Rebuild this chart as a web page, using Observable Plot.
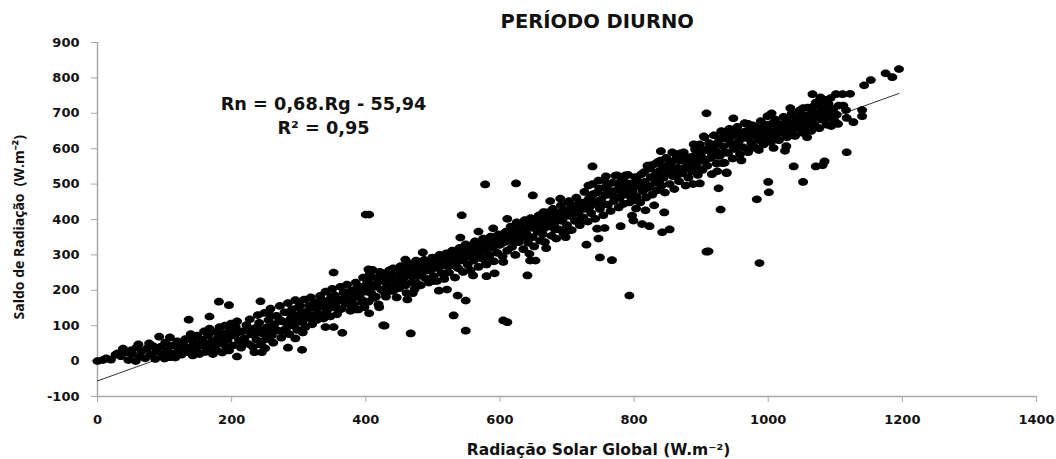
<!DOCTYPE html>
<html><head><meta charset="utf-8">
<script src="https://cdn.jsdelivr.net/npm/d3@7"></script>
<script src="https://cdn.jsdelivr.net/npm/@observablehq/plot@0.6"></script>
<style>body{margin:0;background:#fff}</style></head><body><div id="c"></div>
<script>
const title = "PERÍODO DIURNO";
const xLabel = "Radiação Solar Global (W.m⁻²)";
const yLabel = "Saldo de Radiação  (W.m⁻²)";
const equation = "Rn = 0,68.Rg - 55,94";
const r2 = "R² = 0,95";
const xTicks = [0,200,400,600,800,1000,1200,1400];
const yTicks = [-100,0,100,200,300,400,500,600,700,800,900];
const trendRg = [0,1195];
const trendRn = [-55.94,756];

const outliers = [[400,414],[405,414],[543,412],[578,499],[624,502],[649,468],[738,550],[793,185],[908,309],[911,310],[929,428],[926,488],[840,593],[549,86],[531,129],[605,115],[611,110],[467,78],[426,101],[549,171],[537,185],[521,202],[509,199],[641,242],[560,242],[580,240],[592,248],[605,280],[645,284],[653,284],[644,303],[669,319],[729,329],[749,293],[767,285],[747,346],[698,350],[780,381],[756,376],[745,374],[842,364],[853,372],[823,381],[812,387],[799,397],[797,411],[845,420],[817,426],[803,431],[830,440],[898,502],[924,536],[938,533],[908,700],[948,686],[970,670],[1005,700],[987,277],[983,457],[1001,477],[1000,506],[1052,506],[1038,550],[1071,550],[1084,564],[1081,553],[1117,590],[1195,825],[1175,813],[1185,802],[1153,794],[1143,779],[1122,755],[1111,754],[1101,754],[1066,754],[1078,745],[1093,743],[1033,715],[1052,715],[1112,722],[1105,722],[1116,709],[1140,709],[1140,692],[1117,687],[1127,675],[1058,632],[1027,607],[1025,594],[1008,602],[986,596],[976,603],[960,567],[932,559],[938,531],[136,117],[167,126],[181,168],[196,158],[243,169],[352,250],[428,100],[405,135],[365,80],[352,96],[340,96],[305,32],[284,38],[295,64],[306,81],[208,13],[234,25],[245,25],[250,36],[92,69],[77,50],[108,67],[61,47],[46,3],[57,0],[100,7],[108,11],[0,0],[8,3],[20,4],[13,8],[27,18],[38,35],[50,30]];

const band0to200 = [[30,22],[35,14],[44,25],[52,20],[58,38],[63,12],[66,28],[71,8],[74,36],[79,18],[83,42],[86,6],[88,28],[94,40],[97,18],[101,52],[104,30],[109,44],[113,22],[116,10],[119,56],[122,34],[125,18],[128,46],[131,62],[134,25],[137,38],[139,76],[142,16],[144,52],[147,30],[149,72],[152,20],[154,44],[156,60],[159,84],[161,26],[163,38],[165,72],[167,92],[170,54],[172,20],[174,42],[176,82],[178,30],[180,66],[182,96],[184,50],[186,24],[188,78],[190,100],[192,40],[194,60],[196,30],[198,88],[199,106]];
const band200to400 = [[202,44],[204,72],[206,96],[208,112],[211,58],[214,38],[216,84],[219,64],[222,102],[225,48],[227,118],[229,76],[232,40],[234,92],[237,60],[239,130],[241,108],[244,46],[246,78],[249,136],[251,62],[253,96],[255,116],[258,148],[260,72],[262,52],[264,104],[267,128],[269,86],[272,156],[274,66],[276,112],[279,138],[281,92],[284,164],[286,76],[288,120],[290,146],[293,100],[295,172],[298,88],[300,130],[302,156],[305,110],[308,174],[310,96],[312,140],[315,122],[318,180],[320,104],[322,150],[325,166],[327,116],[330,134],[332,184],[335,156],[337,120],[340,196],[342,142],[345,172],[347,126],[350,204],[352,152],[354,186],[357,132],[360,172],[362,210],[364,148],[367,194],[370,164],[372,216],[375,180],[377,142],[380,200],[382,160],[385,222],[387,186],[389,146],[392,210],[394,174],[396,236],[398,152],[399,196]];
const band400to600 = [[402,220],[404,168],[406,246],[408,192],[410,258],[413,210],[415,182],[417,236],[419,160],[421,252],[423,202],[426,226],[428,248],[430,182],[432,214],[435,256],[437,236],[439,198],[441,262],[444,222],[446,180],[448,244],[450,206],[452,268],[455,230],[457,258],[459,214],[461,192],[464,276],[466,244],[468,222],[471,262],[473,204],[475,284],[477,240],[480,266],[482,214],[484,252],[487,286],[489,234],[491,270],[494,222],[496,256],[499,292],[501,240],[503,276],[506,226],[508,262],[510,300],[513,248],[515,284],[517,232],[520,304],[522,268],[524,250],[527,292],[529,312],[531,276],[533,236],[536,300],[538,262],[540,320],[542,284],[545,252],[547,306],[549,330],[552,272],[554,296],[556,256],[559,318],[561,284],[563,338],[566,304],[568,266],[570,326],[573,290],[575,346],[577,312],[579,274],[582,334],[584,300],[586,352],[589,320],[591,282],[593,340],[596,306],[598,358],[599,328]];
const band600to800 = [[602,350],[604,296],[606,336],[609,366],[611,312],[614,344],[616,380],[618,322],[621,358],[623,300],[625,392],[628,336],[630,372],[632,350],[635,316],[637,398],[639,362],[642,334],[644,380],[646,404],[649,350],[651,324],[653,388],[656,366],[658,412],[660,340],[663,392],[665,374],[667,336],[670,420],[672,380],[674,402],[677,354],[679,430],[681,388],[684,346],[686,414],[688,372],[691,440],[693,396],[695,360],[698,426],[700,384],[703,452],[705,410],[707,370],[710,436],[712,396],[714,462],[717,420],[719,384],[722,448],[724,406],[726,478],[729,432],[731,394],[733,460],[736,418],[738,500],[740,444],[742,402],[745,476],[747,510],[749,430],[751,456],[754,412],[756,490],[758,522],[761,442],[763,470],[765,424],[768,504],[770,452],[772,524],[775,484],[777,434],[779,462],[782,514],[784,444],[786,494],[789,470],[791,526],[793,448],[796,502],[798,478],[799,454]];
const band800to1000 = [[802,520],[804,464],[806,494],[809,448],[811,528],[813,480],[816,506],[818,462],[820,552],[823,492],[825,520],[827,470],[830,556],[832,504],[834,482],[837,536],[839,566],[841,496],[844,518],[846,476],[848,574],[851,542],[853,500],[855,560],[858,522],[860,486],[862,584],[865,546],[867,508],[869,566],[872,530],[874,590],[877,496],[879,552],[881,518],[884,576],[886,536],[888,500],[891,598],[893,560],[895,526],[898,612],[900,578],[902,540],[905,632],[907,596],[909,552],[912,616],[914,574],[916,528],[919,638],[921,594],[923,558],[926,620],[928,580],[930,650],[933,606],[935,560],[937,628],[940,588],[942,656],[944,614],[947,572],[949,638],[951,600],[954,662],[956,620],[958,584],[961,646],[963,604],[965,672],[968,630],[970,590],[972,652],[975,616],[977,666],[979,636],[982,602],[984,658],[986,624],[989,678],[991,644],[993,612],[996,666],[998,630],[999,692]];
const band1000to1120 = [[1002,650],[1004,618],[1007,672],[1009,636],[1011,682],[1014,652],[1016,624],[1019,668],[1021,644],[1023,690],[1026,658],[1028,632],[1031,678],[1033,650],[1035,700],[1038,668],[1040,636],[1043,688],[1045,656],[1047,708],[1050,674],[1052,644],[1055,694],[1057,662],[1059,716],[1062,680],[1064,650],[1066,704],[1069,668],[1071,730],[1073,692],[1076,658],[1078,722],[1080,682],[1083,738],[1085,702],[1087,668],[1090,726],[1092,688],[1094,664],[1097,712],[1099,678],[1102,696],[1104,670]];
const extraLow = [[118,42],[127,30],[141,58],[148,44],[158,50],[169,34],[177,60],[187,62],[195,76],[201,86],[209,80],[217,50],[224,88],[233,74],[243,88],[252,84],[259,128],[263,88],[271,118],[277,86],[283,106],[289,134],[294,118],[299,152],[304,136],[309,120],[316,158],[323,130],[329,152],[334,172],[339,130],[344,156],[349,182],[356,166],[361,146],[366,176],[371,194],[376,160],[381,178],[386,204],[391,190],[395,166],[401,204],[405,232],[411,178],[416,218],[422,238],[427,196],[433,232],[438,246],[443,206],[449,226],[453,252],[458,238],[463,258],[469,240],[474,268],[479,250],[485,270],[490,256],[495,278],[500,262],[505,284],[511,268],[516,296],[521,282],[526,270],[530,304],[535,288],[541,304],[546,286],[551,316],[555,304],[560,330],[565,316],[569,300],[574,332],[578,322],[583,344],[587,330],[592,350],[597,336]];
const extraHigh = [[601,330],[607,352],[612,362],[617,340],[622,372],[627,354],[631,386],[636,370],[641,348],[645,392],[650,376],[655,396],[659,378],[664,358],[668,400],[673,388],[678,410],[682,372],[687,398],[692,422],[696,408],[701,368],[706,434],[711,418],[715,442],[720,402],[725,430],[730,452],[734,436],[739,472],[743,452],[748,488],[752,440],[757,470],[762,500],[766,480],[771,464],[776,502],[780,482],[785,508],[790,490],[795,466],[800,496],[805,510],[810,502],[815,534],[819,488],[824,544],[829,516],[833,530],[838,512],[843,548],[847,528],[852,556],[857,540],[861,568],[866,528],[871,576],[876,546],[880,566],[885,556],[890,580],[894,548],[899,592],[904,566],[910,600],[915,590],[920,610],[925,580],[929,628],[934,590],[939,640],[943,630],[948,604],[953,644],[957,606],[962,630],[967,650],[971,634],[976,642],[981,660],[985,640],[990,656],[995,644],[1000,668],[1006,650],[1012,666],[1018,650],[1024,672],[1029,664],[1036,684],[1042,668],[1048,692],[1054,672],[1060,694],[1065,680],[1070,700],[1075,688],[1079,706],[1084,686],[1088,712],[1093,700],[1098,690],[1074,732],[1088,738],[1068,720]];
const edgePoints = [[441,199],[459,214],[470,192],[462,174],[476,220],[501,226],[516,247],[535,267],[580,273],[584,294],[420,152],[396,166],[385,146],[611,402],[665,421],[675,452],[690,459],[702,449],[732,496],[755,511],[775,525],[787,525],[825,553],[835,562],[857,590],[869,587],[889,612],[904,635],[932,647],[485,307],[459,287],[436,256],[404,259],[541,349],[568,366],[590,375]];

const points = [...outliers,...band0to200,...band200to400,...band400to600,...band600to800,...band800to1000,...band1000to1120,...extraLow,...extraHigh,...edgePoints];
const trend = trendRg.map((x,i)=>({x,y:trendRn[i]}));
// Markers are wider than tall, as in the stretched reference
const oval = {draw(c,s){const r=Math.sqrt(s/Math.PI),a=r*1.18,b=r*0.92,k=0.5523;
  c.moveTo(a,0);c.bezierCurveTo(a,k*b,k*a,b,0,b);c.bezierCurveTo(-k*a,b,-a,k*b,-a,0);
  c.bezierCurveTo(-a,-k*b,-k*a,-b,0,-b);c.bezierCurveTo(k*a,-b,a,-k*b,a,0);c.closePath();}};
const axisGrey = "#a8a8a8";
const labelFont = "'DejaVu Sans',sans-serif";
const chart = Plot.plot({
  width:1056,height:459,marginLeft:97,marginRight:20,marginTop:42,marginBottom:63,
  style:{background:"#fff",fontFamily:labelFont},
  x:{domain:[0,1400]},y:{domain:[-100,900]},
  marks:[
    Plot.ruleX([0],{stroke:axisGrey,strokeWidth:1.5}),
    Plot.ruleY([-100],{stroke:axisGrey,strokeWidth:1.5}),
    Plot.axisX({ticks:xTicks,tickSize:6,tickPadding:12,stroke:axisGrey,fill:"#111",fontSize:13,fontWeight:"bold",label:null,tickFormat:d=>String(d)}),
    Plot.axisY({ticks:yTicks,tickSize:6,tickPadding:12,stroke:axisGrey,fill:"#111",fontSize:13,fontWeight:"bold",label:null,tickFormat:d=>String(d).replace("−","-")}),
    Plot.line(trend,{x:"x",y:"y",stroke:"#333",strokeWidth:1}),
    Plot.dot(points,{x:d=>d[0],y:d=>d[1],r:4.2,symbol:oval,fill:"#000",stroke:"none"}),
    Plot.text([title],{x:[745],y:[960],text:d=>d,fontFamily:labelFont,fontWeight:"bold",fontSize:19.5,fill:"#111"}),
    Plot.text([equation],{x:[337],y:[725],text:d=>d,fontFamily:labelFont,fontWeight:"bold",fontSize:17.7,fill:"#111"}),
    Plot.text([r2],{x:[337],y:[657],text:d=>d,fontFamily:labelFont,fontWeight:"bold",fontSize:17.7,fill:"#111"}),
    Plot.text([xLabel],{x:[747],y:[-250],text:d=>d,fontFamily:labelFont,fontWeight:"bold",fontSize:15.5,fill:"#111"}),
    Plot.text([yLabel],{x:[-117],y:[378],text:d=>d,rotate:-90,fontFamily:"'Open Sans',sans-serif",fontWeight:"bold",fontSize:14,fill:"#111"})
  ]
});
document.getElementById("c").appendChild(chart);
</script></body></html>
